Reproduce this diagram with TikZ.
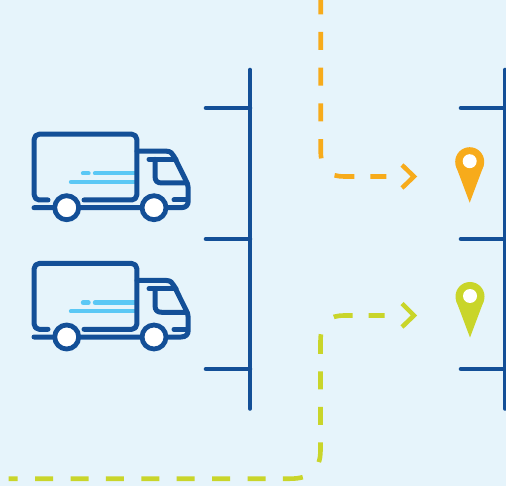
\documentclass[tikz,border=0pt]{standalone}
\definecolor{bgc}{HTML}{E6F4FB}
\definecolor{navy}{HTML}{134F97}
\definecolor{sky}{HTML}{5BC8F5}
\definecolor{orng}{HTML}{F7AB1B}
\definecolor{lime}{HTML}{C9D52A}
\tikzset{
  post/.style={draw=navy,line width=4.6pt,line cap=round},
  truckline/.style={draw=navy,line width=5pt,line cap=round,line join=round},
  speed/.style={draw=sky,line width=4.4pt,line cap=round},
  wheel/.style={draw=navy,line width=4.8pt,fill=white},
  route/.style={line width=4.6pt},
  truck/.pic={
    \draw[speed] (83,173.3) -- (88.5,173.3);
    \draw[speed] (95,173.3) -- (135,173.3);
    \draw[speed] (71,182) -- (135,182);
    \draw[truckline,rounded corners=5pt] (48,200) -- (34.2,200) -- (34.2,134.2) -- (136.8,134.2) -- (136.8,200) -- (84,200);
    \draw[truckline] (34,207.7) -- (176,207.7) -- (181,207.7) .. controls (186,207.7) and (188.2,205) .. (188.2,201) -- (188.2,188) .. controls (188.2,185) and (187.2,183) .. (185.7,180) -- (174,156.5) .. controls (172.5,153.5) and (170.5,151.2) .. (166.5,151.2) -- (137,151.2);
    \draw[truckline] (149,159.3) -- (176,159.3);
    \draw[truckline] (155,159.3) -- (155,176) .. controls (155,181) and (157,183) .. (162,183) -- (187,183);
    \draw[truckline] (174,200) -- (186,200);
    \draw[wheel] (66.7,207.7) circle (12);
    \draw[wheel] (154,207.7) circle (12);
  },
  pin/.pic={
    \fill (0,0) circle (14.5);
    \fill (-14,3.8) -- (0,41) -- (14,3.8) -- cycle;
    \fill[white] (0,-0.5) circle (7);
  }
}
\begin{document}
\begin{tikzpicture}[x=1pt,y=-1pt]
\useasboundingbox (0,0) rectangle (506,486);
\fill[bgc] (0,0) rectangle (506,486);
% posts
\coordinate (lt) at (250,70); \coordinate (lb) at (250,408.5);
\coordinate (rt) at (505,70); \coordinate (rb) at (505,408.5);
\draw[post] (lt) -- (lb);
\draw[post] (rt) -- (rb);
\foreach \y/\n in {108/a,239/b,369/c}{
  \coordinate (l\n) at (250,\y); \coordinate (m\n) at (206,\y);
  \coordinate (r\n) at (505,\y); \coordinate (s\n) at (461,\y);
  \draw[post] (m\n) -- (l\n);
  \draw[post] (s\n) -- (r\n);
}
% trucks
\pic at (0,0) {truck};
\pic at (0,129.3) {truck};
% orange route
\coordinate (os) at (320.7,-3.7); \coordinate (oe) at (389,176.5);
\draw[route,orng,dash pattern=on 18pt off 17.7pt on 18pt off 17.7pt on 18pt off 17.7pt on 18pt off 17.7pt on 19.3pt off 23pt on 20pt off 16pt on 16pt off 100pt]
  (os) -- (320.7,150) .. controls (320.7,170) and (328,176.5) .. (345,176.5) -- (oe);
\draw[orng,line width=4.5pt] (402,165) -- (414,176.5) -- (402,188);
% lime route
\coordinate (gs) at (8.7,478.7); \coordinate (ge) at (389,315.5);
\draw[route,lime,dash pattern=on 9pt off 17.4pt on 18pt off 17.4pt on 18pt off 17.4pt on 18pt off 17.4pt on 18pt off 17.4pt on 18pt off 17.4pt on 18pt off 17.4pt on 18pt off 17.4pt on 20pt off 23pt on 20pt off 17.4pt on 18pt off 17.4pt on 18pt off 17.7pt on 19.5pt off 23pt on 19pt off 16pt on 16pt off 100pt]
  (gs) -- (290,478.7) .. controls (310,478.7) and (320.5,470) .. (320.5,450) -- (320.5,342) .. controls (320.5,322) and (328,315.5) .. (345,315.5) -- (ge);
\draw[lime,line width=4.5pt] (402,303.5) -- (414,315.5) -- (402,327);
% pins
\pic[orng] at (469.7,161.7) {pin};
\pic[lime] at (470,296.5) {pin};
\end{tikzpicture}
\end{document}
